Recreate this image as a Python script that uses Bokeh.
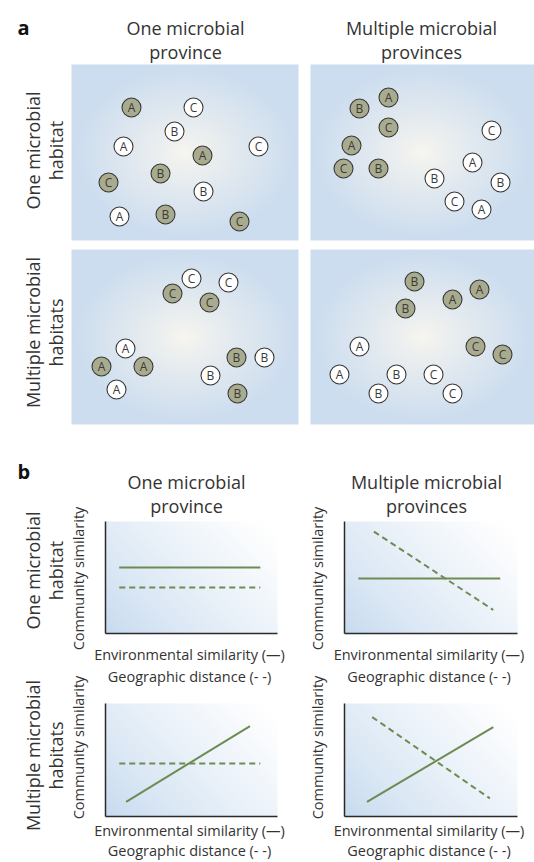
import numpy as np
from bokeh.plotting import figure
from bokeh.models import Range1d
from bokeh.core.properties import value
from bokeh.embed import file_html
from bokeh.resources import INLINE

# ---------------- data ----------------
panel_letters = ["a", "b"]
col_title_1 = ["One microbial", "Multiple microbial"]
col_title_2 = ["province", "provinces"]
row_title_1 = ["One microbial", "Multiple microbial"]
row_title_2 = ["habitat", "habitats"]
y_axis_label = "Community similarity"
x_axis_label_1 = "Environmental similarity (\u2014)"
x_axis_label_2 = "Geographic distance (- -)"

# Part a: taxa (x from panel left, y from panel top, panel pixel units)
a11_x = [60, 122, 103, 52, 187, 131, 89, 37, 132, 48, 94, 168]
a11_y = [43, 43, 67, 82, 82, 91, 109, 118, 127, 152, 150, 157]
a11_taxon = ["A", "C", "B", "A", "C", "A", "B", "C", "B", "A", "B", "C"]
a11_filled = [1, 0, 0, 0, 0, 1, 1, 1, 0, 0, 1, 1]

a12_x = [49, 78, 78, 41, 33, 68, 181, 162, 124, 190, 144, 171]
a12_y = [44, 33, 63, 81, 104, 104, 66, 98, 114, 118, 137, 145]
a12_taxon = ["B", "A", "C", "A", "C", "B", "C", "A", "B", "B", "C", "A"]
a12_filled = [1, 1, 1, 1, 1, 1, 0, 0, 0, 0, 0, 0]

a21_x = [120, 157, 101, 138, 54, 30, 72, 45, 165, 193, 139, 166]
a21_y = [29, 33, 44, 53, 99, 117, 117, 140, 108, 108, 126, 144]
a21_taxon = ["C", "C", "C", "C", "A", "A", "A", "A", "B", "B", "B", "B"]
a21_filled = [0, 0, 1, 1, 0, 1, 1, 0, 1, 0, 0, 1]

a22_x = [104, 95, 142, 169, 49, 165, 192, 29, 86, 123, 68, 142]
a22_y = [32, 59, 50, 40, 97, 97, 105, 125, 125, 125, 144, 144]
a22_taxon = ["B", "B", "A", "A", "A", "C", "C", "A", "B", "C", "B", "C"]
a22_filled = [1, 1, 1, 1, 0, 1, 1, 0, 0, 0, 0, 0]

# Part b: conceptual lines (axis units 0..1)
b11_env_x = [0.08, 0.90]; b11_env_y = [0.59, 0.59]
b11_geo_x = [0.08, 0.90]; b11_geo_y = [0.41, 0.41]
b12_env_x = [0.08, 0.90]; b12_env_y = [0.49, 0.49]
b12_geo_x = [0.17, 0.86]; b12_geo_y = [0.91, 0.21]
b21_env_x = [0.12, 0.84]; b21_env_y = [0.13, 0.80]
b21_geo_x = [0.08, 0.90]; b21_geo_y = [0.47, 0.47]
b22_env_x = [0.13, 0.86]; b22_env_y = [0.13, 0.79]
b22_geo_x = [0.16, 0.84]; b22_geo_y = [0.88, 0.16]

# ---------------- layout (page pixel coords, y downwards) ----------------
W, H = 534, 862
A_COLS = [(71, 298), (310, 534)]
A_ROWS = [(64, 240), (249, 424)]
B_COLS = [(105, 277), (344, 517)]
B_ROWS = [(521, 633), (703, 816)]
B_YLAB_CY = [578, 747]
B_XLAB_BASE = [(654, 676), (830, 850)]

FONT = value("Open Sans")
TXT = "#333333"
GREEN = "#6e8b53"
FILL = "#a9ab8e"
EDGE = "#3a3a3a"


def Y(v):
    return H - v


p = figure(width=W, height=H, x_range=Range1d(0, W), y_range=Range1d(0, H),
           output_backend="svg", toolbar_location=None, min_border=0,
           x_axis_location=None, y_axis_location=None)
p.grid.visible = False
p.outline_line_color = None
p.background_fill_color = "white"
p.border_fill_color = "white"


def sub(x0, x1, ytop, ybot, xs=(0, 1), ys=(0, 1)):
    return p.subplot(x_source=Range1d(*xs), y_source=Range1d(*ys),
                     x_target=Range1d(x0, x1), y_target=Range1d(Y(ybot), Y(ytop)))


def rgba(rgb):
    ny, nx = rgb.shape[:2]
    img = np.empty((ny, nx), dtype=np.uint32)
    v = img.view(dtype=np.uint8).reshape((ny, nx, 4))
    v[..., :3] = np.clip(rgb, 0, 255).astype(np.uint8)
    v[..., 3] = 255
    return img


def radial_bg(nx, ny):
    xx, yy = np.meshgrid(np.linspace(-1, 1, nx), np.linspace(-1, 1, ny))
    r = np.clip(np.sqrt(xx ** 2 + yy ** 2) / 1.0, 0, 1)
    t = r ** 0.9
    c0 = np.array([248, 246, 239.0])
    c1 = np.array([204, 221, 240.0])
    return rgba(c0 * (1 - t)[..., None] + c1 * t[..., None])


def linear_bg(nx, ny):
    xx, yy = np.meshgrid(np.linspace(0, 1, nx), np.linspace(0, 1, ny))
    t = np.clip(0.65 * xx + 0.42 * yy, 0, 1) ** 0.8
    c0 = np.array([198, 218, 239.0])
    c1 = np.array([255, 255, 255.0])
    return rgba(c0 * (1 - t)[..., None] + c1 * t[..., None])


def text(x, y, t, size, align="center", baseline="alphabetic", angle=0.0,
         color=TXT, style="normal", target=None, font=FONT):
    (target or p).text(x=x, y=y, text=t, text_font=font, text_font_size=value(f"{size}px"),
                       text_align=align, text_baseline=baseline, angle=angle,
                       text_color=color, text_font_style=style)


# ---------------- part a ----------------
panels_a = [[(a11_x, a11_y, a11_taxon, a11_filled), (a12_x, a12_y, a12_taxon, a12_filled)],
            [(a21_x, a21_y, a21_taxon, a21_filled), (a22_x, a22_y, a22_taxon, a22_filled)]]
for ri, (yt, yb) in enumerate(A_ROWS):
    for ci, (xl, xr) in enumerate(A_COLS):
        pw, ph = xr - xl, yb - yt
        bg = sub(xl, xr, yt, yb)
        bg.image_rgba(image=[radial_bg(pw, ph)], x=0, y=0, dw=1, dh=1)
        xs, ys, tx, fl = panels_a[ri][ci]
        s = sub(xl, xr, yt, yb, xs=(0, pw), ys=(ph, 0))
        s.scatter(x=xs, y=ys, marker="circle", size=19,
                  fill_color=[FILL if f else "white" for f in fl],
                  line_color=EDGE, line_width=1.1)
        text(xs, ys, tx, 12, baseline="middle", target=s, color="#3a3a3a")

# ---------------- part b ----------------
panels_b = [[(b11_env_x, b11_env_y, b11_geo_x, b11_geo_y), (b12_env_x, b12_env_y, b12_geo_x, b12_geo_y)],
            [(b21_env_x, b21_env_y, b21_geo_x, b21_geo_y), (b22_env_x, b22_env_y, b22_geo_x, b22_geo_y)]]
for ri, (yt, yb) in enumerate(B_ROWS):
    for ci, (xl, xr) in enumerate(B_COLS):
        pw, ph = xr - xl, yb - yt
        s = sub(xl, xr, yt, yb)
        s.image_rgba(image=[linear_bg(pw, ph)], x=0, y=0, dw=1, dh=1)
        ex, ey, gx, gy = panels_b[ri][ci]
        s.line(x=ex, y=ey, line_color=GREEN, line_width=2)
        s.line(x=gx, y=gy, line_color=GREEN, line_width=2, line_dash="6 4")
        s.segment(x0=[0, 0], y0=[0, 0], x1=[1, 0], y1=[0, 1], line_color="#2a2a2a", line_width=1.5)
        # axis labels
        text([xl - 27], [Y(B_YLAB_CY[ri])], [y_axis_label], 14.5, baseline="middle", angle=np.pi / 2)
        cx = (xl + xr) / 2 - 2
        text([cx], [Y(B_XLAB_BASE[ri][0])], [x_axis_label_1], 14.5)
        text([cx], [Y(B_XLAB_BASE[ri][1])], [x_axis_label_2], 14.5)

# ---------------- titles ----------------
text([17, 17], [Y(27), Y(471)], panel_letters, 20, align="left", style="bold", color="#111111")
text([185, 421], [Y(27)] * 2, col_title_1, 18)
text([185, 421], [Y(51)] * 2, col_title_2, 18)
text([186, 426], [Y(481)] * 2, col_title_1, 18)
text([186, 426], [Y(505)] * 2, col_title_2, 18)

a_cy = [Y(150), Y(332)]
b_cy = [Y(570), Y(755)]
text([32, 32], a_cy, row_title_1, 18, angle=np.pi / 2)
text([55, 55], a_cy, row_title_2, 18, angle=np.pi / 2)
text([32, 32], b_cy, row_title_1, 18, angle=np.pi / 2)
text([55, 55], b_cy, row_title_2, 18, angle=np.pi / 2)

open("out.html", "w").write(file_html(p, INLINE))
